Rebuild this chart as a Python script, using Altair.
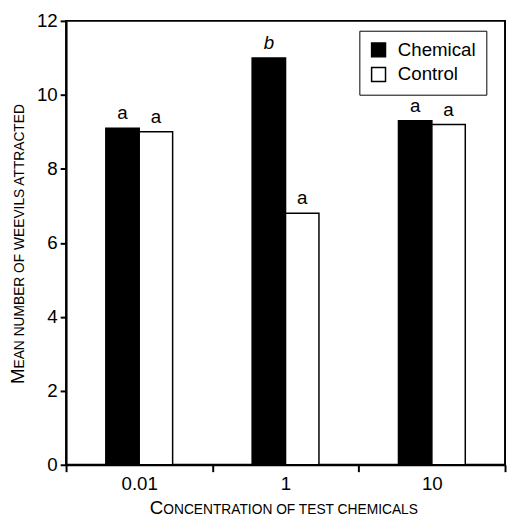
import altair as alt
import pandas as pd

concentrations = ["0.01", "1", "10"]
series_names = ["Chemical", "Control"]
chemical_means = [9.1, 11.0, 9.3]
control_means = [9.0, 6.8, 9.2]
chemical_letters = ["a", "b", "a"]
control_letters = ["a", "a", "a"]
chemical_italic = [False, True, False]
control_italic = [False, False, False]
y_ticks = [0, 2, 4, 6, 8, 10, 12]

# axis titles, set in small capitals (first letter large, rest small)
x_title_first = "C"
x_title_rest = "ONCENTRATION OF TEST CHEMICALS"
y_title_first = "M"
y_title_rest = "EAN NUMBER OF WEEVILS ATTRACTED"

rows = []
for i, c in enumerate(concentrations):
    rows.append({"conc": c, "series": "Chemical", "mean": chemical_means[i],
                 "letter": chemical_letters[i], "italic": chemical_italic[i]})
    rows.append({"conc": c, "series": "Control", "mean": control_means[i],
                 "letter": control_letters[i], "italic": control_italic[i]})
df = pd.DataFrame(rows)
one = pd.DataFrame({"k": [0]})

FONT = "Liberation Sans"
BIG = 19
SMALL = 14
offset_domain = ["_left", "Chemical", "Control", "_right"]

x_enc = alt.X("conc:N", sort=concentrations,
              scale=alt.Scale(paddingInner=0, paddingOuter=0),
              axis=alt.Axis(title=None, labelAngle=0,
                            tickBand="extent", tickSize=7, labelPadding=3))
xoff_enc = alt.XOffset("series:N",
                       scale=alt.Scale(domain=offset_domain, paddingInner=0,
                                       paddingOuter=0.19, align=0.5))
y_enc = alt.Y("mean:Q", scale=alt.Scale(domain=[0, 12], nice=False),
              axis=alt.Axis(title=None, values=y_ticks,
                            grid=False, tickSize=6, labelPadding=3))

bars = alt.Chart(df).mark_bar(stroke="black", strokeWidth=1.5).encode(
    x=x_enc,
    xOffset=xoff_enc,
    y=y_enc,
    fill=alt.Fill("series:N", sort=series_names,
                  scale=alt.Scale(domain=series_names, range=["black", "white"]),
                  legend=alt.Legend(title=None, orient="none", legendX=298, legendY=10,
                                    strokeColor="black", padding=10, symbolType="square",
                                    symbolSize=200, symbolStrokeColor="black",
                                    symbolStrokeWidth=1.5, labelFontSize=19, labelFont=FONT,
                                    labelColor="black", labelOffset=10, rowPadding=4)),
)

upright = alt.Chart(df).transform_filter("!datum.italic").mark_text(
    baseline="bottom", dy=-5, fontSize=19, font=FONT, color="black").encode(
    x=alt.X("conc:N", sort=concentrations), xOffset=alt.XOffset("series:N"),
    y="mean:Q", text="letter:N")

italic = alt.Chart(df).transform_filter("datum.italic").mark_text(
    baseline="bottom", dy=-5, fontSize=19, font=FONT, fontStyle="italic", color="black").encode(
    x=alt.X("conc:N", sort=concentrations), xOffset=alt.XOffset("series:N"),
    y="mean:Q", text="letter:N")

x_first = alt.Chart(one).mark_text(align="left", baseline="alphabetic", fontSize=BIG,
                                   font=FONT, color="black").encode(
    x=alt.value(85), y=alt.value(501), text=alt.value(x_title_first))
x_rest = alt.Chart(one).mark_text(align="left", baseline="alphabetic", fontSize=SMALL,
                                  font=FONT, color="black").encode(
    x=alt.value(85 + 0.722 * BIG), y=alt.value(501), text=alt.value(x_title_rest))
y_first = alt.Chart(one).mark_text(align="left", baseline="alphabetic", fontSize=BIG,
                                   font=FONT, color="black", angle=270).encode(
    x=alt.value(-43), y=alt.value(369), text=alt.value(y_title_first))
y_rest = alt.Chart(one).mark_text(align="left", baseline="alphabetic", fontSize=SMALL,
                                  font=FONT, color="black", angle=270).encode(
    x=alt.value(-43), y=alt.value(369 - 0.833 * BIG), text=alt.value(y_title_rest))

chart = alt.layer(bars, upright, italic, x_first, x_rest, y_first, y_rest).properties(
    width=446, height=451,
    autosize=alt.AutoSizeParams(type="none"),
    padding={"left": 59, "top": 9, "right": 2, "bottom": 51},
    background="white",
).configure_view(stroke="black", strokeWidth=2).configure_axis(
    domainColor="black", domainWidth=2, tickColor="black", tickWidth=2,
    labelFont=FONT, labelFontSize=19, labelColor="black",
)

chart.save("out.html", embed_options={"renderer": "svg", "actions": False})
